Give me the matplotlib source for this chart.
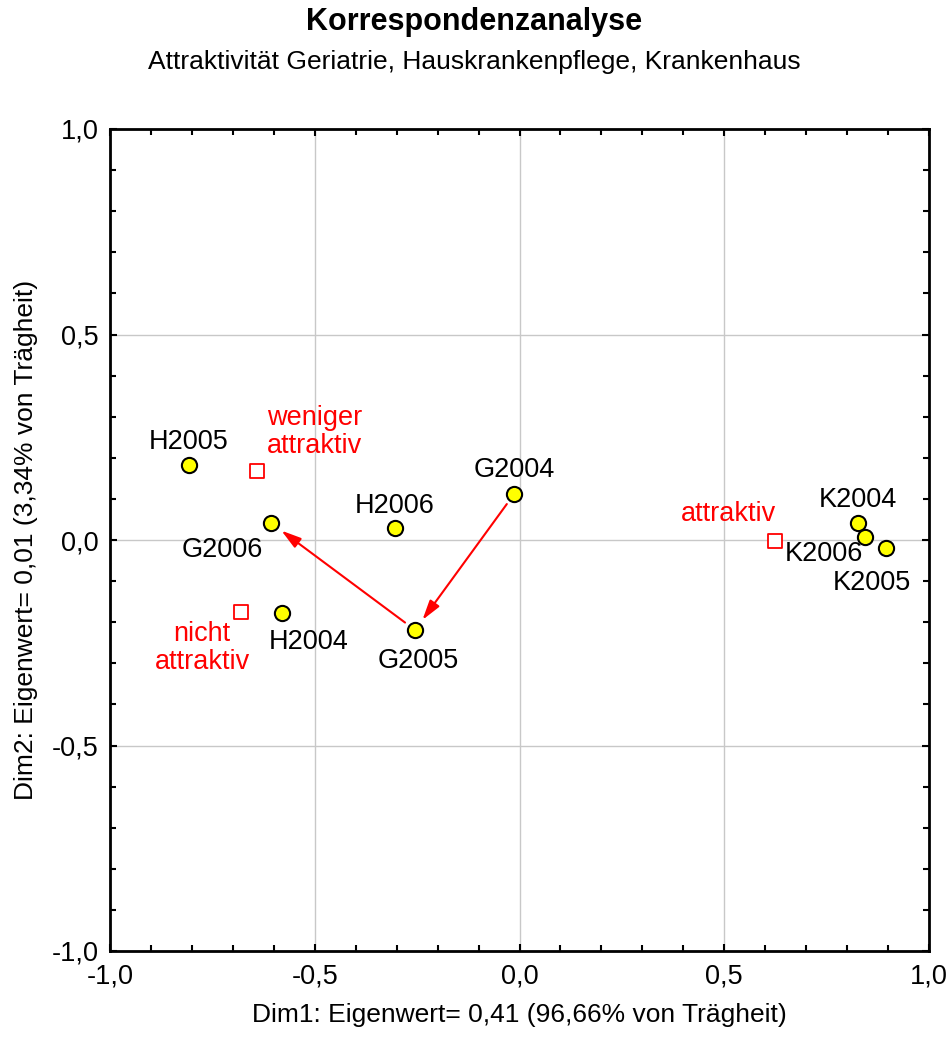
import matplotlib
matplotlib.use("Agg")
import matplotlib.pyplot as plt
from matplotlib.ticker import MultipleLocator, FuncFormatter

plt.rcParams['font.family'] = ['Liberation Sans', 'DejaVu Sans']

# Data (Dim1, Dim2)
row_labels = ["H2005", "G2006", "H2006", "G2004", "G2005", "H2004", "K2004", "K2006", "K2005"]
row_x = [-0.807, -0.606, -0.304, -0.013, -0.255, -0.580, 0.826, 0.843, 0.894]
row_y = [0.182, 0.041, 0.029, 0.112, -0.219, -0.178, 0.041, 0.007, -0.019]

col_labels = ["weniger\nattraktiv", "nicht\nattraktiv", "attraktiv"]
col_x = [-0.641, -0.680, 0.623]
col_y = [0.168, -0.175, -0.002]

fig = plt.figure(figsize=(9.49, 10.39), dpi=100)
ax = fig.add_axes([110/949, 1-951/1039, 819/949, 822/1039])
ax.set_xlim(-1, 1)
ax.set_ylim(-1, 1)

ax.grid(True, which='major', color='#c8c8c8', linewidth=1)
ax.set_axisbelow(True)

ax.scatter(row_x, row_y, s=120, c='#ffff00', edgecolors='black', linewidths=1.5, zorder=4)
ax.scatter(col_x, col_y, s=110, marker='s', facecolors='white', edgecolors='red', linewidths=1.3, zorder=4)

# label offsets in points
row_off = {
    "H2005": (0, 17, 'center'), "G2006": (-35, -19, 'center'), "H2006": (0, 16, 'center'),
    "G2004": (0, 17, 'center'), "G2005": (2, -22, 'center'), "H2004": (19, -21, 'center'),
    "K2004": (0, 17, 'center'), "K2006": (-29, -12, 'center'), "K2005": (-10, -25, 'center'),
}
for lab, x, y in zip(row_labels, row_x, row_y):
    dx, dy, ha = row_off[lab]
    ax.annotate(lab, (x, y), xytext=(dx, dy), textcoords='offset points',
                ha=ha, va='center', fontsize=19.5, color='black', zorder=5)

col_off = {
    "weniger\nattraktiv": (7, 28, 'left'),
    "nicht\nattraktiv": (-28, -26, 'center'),
    "attraktiv": (-33, 19, 'center'),
}
for lab, x, y in zip(col_labels, col_x, col_y):
    dx, dy, ha = col_off[lab]
    ax.annotate(lab, (x, y), xytext=(dx, dy), textcoords='offset points',
                ha=ha, va='center', fontsize=19.5, color='red', zorder=5, linespacing=1.12)

# arrows G2004 -> G2005 -> G2006
i04, i05, i06 = row_labels.index("G2004"), row_labels.index("G2005"), row_labels.index("G2006")
for a, b in [(i04, i05), (i05, i06)]:
    ax.annotate('', xy=(row_x[b], row_y[b]), xytext=(row_x[a], row_y[a]),
                arrowprops=dict(arrowstyle='-|>,head_length=1.2,head_width=0.35', color='red',
                                lw=1.5, shrinkA=9, shrinkB=9), zorder=3)

fmt = FuncFormatter(lambda v, p: f"{v:.1f}".replace('.', ',').replace('-0,0', '0,0'))
ax.xaxis.set_major_locator(MultipleLocator(0.5))
ax.yaxis.set_major_locator(MultipleLocator(0.5))
ax.xaxis.set_minor_locator(MultipleLocator(0.1))
ax.yaxis.set_minor_locator(MultipleLocator(0.1))
ax.xaxis.set_major_formatter(fmt)
ax.yaxis.set_major_formatter(fmt)
ax.tick_params(which='both', direction='in', top=True, right=True, width=1.5, labelsize=19.5)
ax.tick_params(axis='x', pad=9)
ax.tick_params(axis='y', pad=8)
ax.tick_params(which='major', length=5)
ax.tick_params(which='minor', length=4)
for s in ax.spines.values():
    s.set_linewidth(2)

ax.set_xlabel("Dim1: Eigenwert= 0,41 (96,66% von Trägheit)", fontsize=19, labelpad=10)
ax.set_ylabel("Dim2: Eigenwert= 0,01 (3,34% von Trägheit)", fontsize=19, labelpad=10)

fig.text(0.5, 1-22/1039, "Korrespondenzanalyse", ha='center', va='center', fontsize=22, fontweight='bold')
fig.text(0.5, 1-62/1039, "Attraktivität Geriatrie, Hauskrankenpflege, Krankenhaus", ha='center', va='center', fontsize=19)

fig.savefig("out.png", dpi=100)
